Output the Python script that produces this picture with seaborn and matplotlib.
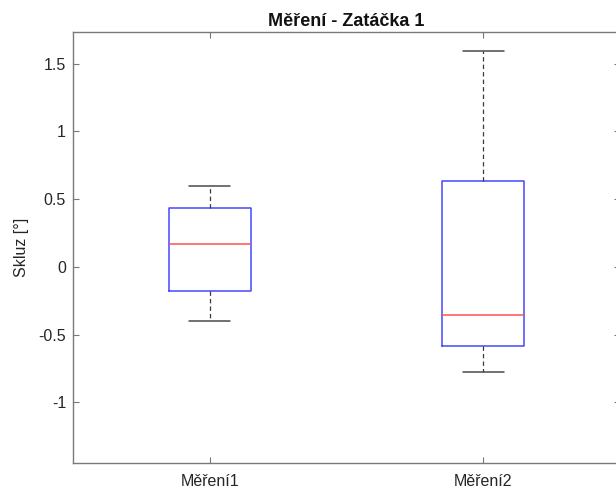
import numpy as np
import pandas as pd
import matplotlib
matplotlib.use("Agg")
import matplotlib.pyplot as plt
import seaborn as sns

# Groups and their five-number summaries
# (lower whisker, first quartile, median, third quartile, upper whisker)
categories = ["Měření1", "Měření2"]
mereni1 = [-0.400, -0.175, 0.167, 0.436, 0.596]
mereni2 = [-0.778, -0.581, -0.355, 0.636, 1.592]

ytick_values = [-1, -0.5, 0, 0.5, 1, 1.5]
ytick_labels = ["-1", "-0.5", "0", "0.5", "1", "1.5"]
y_limits = (-1.449, 1.735)

title_text = "Měření - Zatáčka 1"
ylabel_text = "Skluz [°]"

df = pd.DataFrame({
    "group": [categories[0]] * len(mereni1) + [categories[1]] * len(mereni2),
    "value": mereni1 + mereni2,
})

sns.set_style("white")
plt.rcParams["font.family"] = ["Liberation Sans", "DejaVu Sans"]

fig = plt.figure(figsize=(6.16, 4.90), dpi=100)
ax = fig.add_axes([0.1185, 0.0551, 0.8880, 0.8796])

sns.boxplot(
    data=df, x="group", y="value", order=categories, ax=ax,
    width=0.30, fill=False, showfliers=False, whis=1.5, linewidth=1.0,
    boxprops={"color": "#4646ff", "linewidth": 1.1},
    medianprops={"color": "#ff5050", "linewidth": 1.1},
    whiskerprops={"color": "#3a3a3a", "linewidth": 0.9, "linestyle": (0, (3.5, 2.5))},
    capprops={"color": "#4a4a4a", "linewidth": 1.1},
)

ax.set_xlim(-0.5, 1.5)
ax.set_ylim(*y_limits)
ax.set_yticks(ytick_values)
ax.set_yticklabels(ytick_labels)
ax.set_xlabel("")
ax.set_ylabel(ylabel_text, fontsize=11.5, color="#262626", labelpad=7)
ax.set_title(title_text, fontsize=13, fontweight="bold", color="#111111", pad=4)

ax.tick_params(axis="both", which="both", direction="in", length=4.3, width=0.8,
               color="#777777", labelsize=11.5, labelcolor="#262626",
               top=True, right=True, bottom=True, left=True, pad=5)
ax.tick_params(axis="x", pad=8)
for side in ["left", "right", "top", "bottom"]:
    ax.spines[side].set_visible(True)
    ax.spines[side].set_color("#7a7a7a")
    ax.spines[side].set_linewidth(1.0)

fig.savefig("out.png", dpi=100)
